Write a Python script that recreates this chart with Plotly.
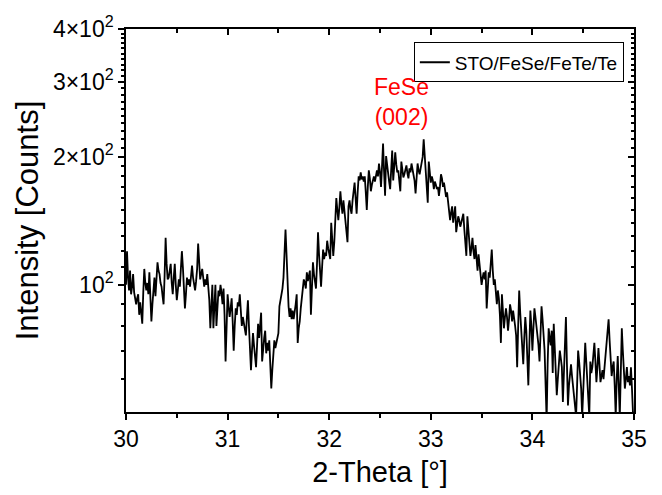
import numpy as np
import plotly.graph_objects as go

# 2-Theta grid (degrees), step 0.01 from 30 to 35
two_theta_start = 30.0
two_theta_step = 0.01

# Intensity [Counts], 501 points (30.00 ... 35.00)
intensity = [
    100, 120, 104, 97, 108, 95, 99, 106, 96, 92,
    90, 93, 95, 85, 91, 86, 81, 96, 109, 101,
    97, 101, 95, 107, 96, 82, 90, 98, 104, 94,
    102, 113, 108, 106, 101, 99, 94, 90, 105, 129,
    112, 103, 104, 108, 112, 101, 95, 104, 112, 100,
    92, 97, 103, 99, 108, 120, 110, 96, 88, 95,
    104, 100, 103, 99, 104, 111, 104, 100, 97, 102,
    109, 125, 110, 103, 106, 109, 104, 99, 103, 100,
    106, 98, 92, 79, 92, 100, 79, 91, 100, 80,
    88, 97, 94, 100, 96, 90, 98, 85, 66, 82,
    95, 89, 84, 88, 93, 82, 70, 80, 88, 85,
    91, 89, 95, 87, 80, 84, 81, 78, 76, 84,
    92, 80, 72, 63, 70, 77, 72, 68, 64, 72,
    81, 75, 80, 86, 66, 72, 75, 78, 69, 73,
    70, 74, 66, 57, 63, 70, 74, 71, 73, 75,
    77, 89, 92, 97, 98, 104, 115, 135, 118, 95,
    89, 84, 88, 83, 87, 83, 86, 90, 95, 73,
    79, 82, 88, 92, 98, 103, 101, 98, 107, 102,
    105, 108, 85, 98, 113, 106, 101, 98, 112, 133,
    118, 107, 99, 110, 121, 115, 119, 117, 127, 122,
    118, 115, 140, 128, 117, 126, 140, 160, 150, 142,
    152, 166, 155, 147, 158, 150, 142, 134, 126, 153,
    158, 151, 147, 158, 166, 174, 160, 147, 165, 180,
    176, 184, 177, 180, 175, 180, 165, 150, 170, 186,
    178, 166, 172, 177, 180, 175, 182, 186, 180, 193,
    184, 170, 190, 215, 185, 162, 201, 190, 182, 175,
    168, 185, 207, 176, 190, 205, 192, 184, 186, 178,
    166, 195, 188, 179, 182, 186, 191, 183, 178, 188,
    184, 193, 188, 182, 176, 164, 180, 193, 186, 182,
    188, 195, 200, 220, 200, 184, 170, 156, 195, 182,
    174, 180, 176, 168, 175, 172, 168, 170, 162, 170,
    182, 178, 170, 174, 168, 161, 165, 156, 150, 142,
    148, 153, 140, 147, 153, 133, 138, 145, 142, 137,
    140, 143, 147, 135, 126, 117, 145, 133, 124, 117,
    122, 129, 120, 115, 124, 114, 108, 118, 112, 105,
    100, 104, 107, 103, 108, 88, 98, 107, 104, 112,
    121, 108, 100, 103, 97, 90, 97, 93, 85, 73,
    95, 87, 79, 84, 88, 84, 78, 83, 90, 87,
    82, 87, 84, 80, 76, 64, 80, 97, 86, 78,
    72, 65, 75, 84, 78, 68, 58, 72, 87, 80,
    70, 79, 88, 84, 80, 78, 72, 66, 76, 89,
    83, 77, 70, 58, 48, 65, 79, 75, 72, 78,
    62, 81, 72, 63, 55, 60, 66, 70, 67, 64,
    53, 62, 74, 84, 65, 52, 58, 62, 65, 61,
    58, 54, 51, 49, 58, 70, 66, 62, 57, 49,
    56, 64, 73, 66, 60, 54, 49, 66, 62, 64,
    68, 73, 66, 59, 64, 71, 65, 59, 61, 63,
    60, 64, 66, 70, 76, 83, 74, 66, 61, 64,
    66, 58, 49, 60, 68, 58, 49, 62, 79, 70,
    63, 57, 60, 64, 59, 61, 58, 64, 57, 50,
    50,
]
two_theta = [round(two_theta_start + two_theta_step * i, 2) for i in range(len(intensity))]

series_name = "STO/FeSe/FeTe/Te"
x_ticks = [30, 31, 32, 33, 34, 35]
x_minor = [30.5, 31.5, 32.5, 33.5, 34.5]
y_ticks = [100, 200, 300, 400]
y_tick_text = ["10<sup>2</sup>", "2\u00d710<sup>2</sup>", "3\u00d710<sup>2</sup>", "4\u00d710<sup>2</sup>"]
y_minor = [60, 70, 80, 90] + list(range(110, 200, 10)) + list(range(210, 300, 10)) + list(range(310, 400, 10))
y_range = [np.log10(50.2), np.log10(400)]
x_range = [30, 35]
peak_label = "FeSe<br>(002)"
peak_x = 32.71

FONT = "Liberation Sans, Arial, sans-serif"

fig = go.Figure()
fig.add_trace(go.Scatter(
    x=two_theta, y=intensity, mode="lines", name=series_name,
    line=dict(color="black", width=1.8), showlegend=True,
))
# empty trace to create the mirrored (top / right) axes with inward ticks
fig.add_trace(go.Scatter(x=[], y=[], xaxis="x2", yaxis="y2", showlegend=False, hoverinfo="skip"))

axis_common = dict(showline=True, linecolor="black", linewidth=1.5, showgrid=False, zeroline=False,
                   tickcolor="black", tickwidth=1.5)

fig.update_layout(
    width=662, height=495,
    margin=dict(l=126, r=28, t=23, b=82),
    paper_bgcolor="white", plot_bgcolor="white",
    font=dict(family=FONT, color="black"),
    xaxis=dict(
        range=x_range, tickvals=x_ticks, ticks="outside", ticklen=6,
        tickfont=dict(size=23),
        minor=dict(tickvals=x_minor, ticks="outside", ticklen=4, tickcolor="black", tickwidth=1.5),
        title=dict(text="2-Theta [\u00b0]", font=dict(size=29), standoff=10),
        **axis_common,
    ),
    xaxis2=dict(
        range=x_range, overlaying="x", side="top", anchor="y", tickvals=x_ticks,
        ticks="inside", ticklen=6, showticklabels=False,
        minor=dict(tickvals=x_minor, ticks="inside", ticklen=4, tickcolor="black", tickwidth=1.5),
        **axis_common,
    ),
    yaxis=dict(
        type="log", range=y_range, tickvals=y_ticks, ticktext=y_tick_text,
        ticks="outside", ticklen=6, tickfont=dict(size=23),
        minor=dict(tickvals=y_minor, ticks="outside", ticklen=3, tickcolor="black", tickwidth=1.5),
        title=dict(text="Intensity [Counts]", font=dict(size=31), standoff=5),
        **axis_common,
    ),
    yaxis2=dict(
        type="log", range=y_range, overlaying="y", side="right", anchor="x",
        tickvals=y_ticks, ticks="inside", ticklen=6, showticklabels=False,
        minor=dict(tickvals=y_minor, ticks="inside", ticklen=3, tickcolor="black", tickwidth=1.5),
        **axis_common,
    ),
    legend=dict(
        x=0.98, y=0.965, xanchor="right", yanchor="top",
        bgcolor="white", bordercolor="black", borderwidth=1,
        font=dict(size=19, family=FONT), tracegroupgap=0,
    ),
    showlegend=True,
)

fig.add_annotation(
    x=peak_x, xref="x", y=0.81, yref="paper", text=peak_label, showarrow=False,
    font=dict(size=23, color="red", family=FONT), xanchor="center", yanchor="middle",
)

fig.write_html("out.html")
